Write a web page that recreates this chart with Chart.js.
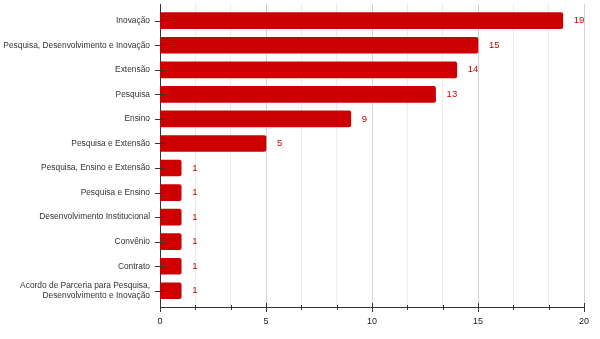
<!DOCTYPE html>
<html>
<head>
<meta charset="utf-8">
<script src="https://cdn.jsdelivr.net/npm/chart.js@4"></script>
<style>
    html, body { margin: 0; padding: 0; background: #fff; }
    #wrap { width: 600px; height: 339px; position: relative; }
</style>
</head>
<body>
<div id="wrap"><canvas id="chart"></canvas></div>
<script>
const categories = [
    "Inovação",
    "Pesquisa, Desenvolvimento e Inovação",
    "Extensão",
    "Pesquisa",
    "Ensino",
    "Pesquisa e Extensão",
    "Pesquisa, Ensino e Extensão",
    "Pesquisa e Ensino",
    "Desenvolvimento Institucional",
    "Convênio",
    "Contrato",
    ["Acordo de Parceria para Pesquisa,", "Desenvolvimento e Inovação"]
];
const counts = [19, 15, 14, 13, 9, 5, 1, 1, 1, 1, 1, 1];
const xTicks = [0, 5 / 3, 10 / 3, 5, 20 / 3, 25 / 3, 10, 35 / 3, 40 / 3, 15, 50 / 3, 55 / 3, 20];

const RED = "#cc0000";
const FONT = "'Liberation Sans', Arial, sans-serif";

function isMajor(v) {
    return Math.abs(v / 5 - Math.round(v / 5)) < 1e-6;
}

// value labels and the tick marks that cross the axis lines
const extras = {
    id: "extras",
    afterDatasetsDraw(chart) {
        const ctx = chart.ctx;
        const x = chart.scales.x;
        const y = chart.scales.y;
        ctx.save();
        ctx.font = "9.5px " + FONT;
        ctx.fillStyle = RED;
        ctx.textBaseline = "middle";
        ctx.textAlign = "left";
        counts.forEach(function (v, i) {
            ctx.fillText(String(v), x.getPixelForValue(v) + 11, y.getPixelForValue(i));
        });

        ctx.strokeStyle = "#333";
        ctx.lineWidth = 1;
        ctx.beginPath();
        categories.forEach(function (c, i) {
            const py = Math.round(y.getPixelForValue(i)) + 0.5;
            ctx.moveTo(x.left - 5, py);
            ctx.lineTo(x.left + 5, py);
        });
        xTicks.forEach(function (v) {
            const px = Math.round(x.getPixelForValue(v)) + 0.5;
            if (isMajor(v)) {
                ctx.moveTo(px, y.bottom - 4);
                ctx.lineTo(px, y.bottom + 5);
            } else {
                ctx.moveTo(px, y.bottom - 2);
                ctx.lineTo(px, y.bottom + 3);
            }
        });
        ctx.stroke();
        ctx.restore();
    }
};

new Chart(document.getElementById("chart"), {
    type: "bar",
    data: {
        labels: categories,
        datasets: [{
            data: counts,
            backgroundColor: RED,
            borderWidth: 0,
            borderRadius: 2,
            borderSkipped: "start",
            barThickness: 16
        }]
    },
    options: {
        indexAxis: "y",
        responsive: true,
        maintainAspectRatio: false,
        animation: false,
        layout: { padding: { top: 4, right: 16, left: 0, bottom: 0 } },
        plugins: {
            legend: { display: false },
            tooltip: { enabled: false }
        },
        scales: {
            x: {
                min: 0,
                max: 20,
                afterBuildTicks: function (scale) {
                    scale.ticks = xTicks.map(function (v) { return { value: v }; });
                },
                afterFit: function (scale) {
                    scale.height = 32;
                    scale.paddingLeft = 0;
                    scale.paddingRight = 0;
                },
                grid: {
                    drawTicks: false,
                    color: function (c) {
                        return c.tick && isMajor(c.tick.value) ? "#d4d4d4" : "#ebebeb";
                    }
                },
                border: { color: "#333" },
                ticks: {
                    autoSkip: false,
                    maxRotation: 0,
                    padding: 9,
                    color: "#222",
                    font: { family: FONT, size: 9 },
                    callback: function (v) {
                        return isMajor(v) ? Math.round(v) : "";
                    }
                }
            },
            y: {
                afterBuildTicks: function (scale) {
                    // a little extra room above and below the bars, as in the reference
                    scale._startValue = -0.68;
                    scale._valueRange = 12.34;
                },
                afterFit: function (scale) {
                    scale.width = 160;
                    scale.paddingTop = 0;
                    scale.paddingBottom = 0;
                },
                grid: { display: false, drawTicks: false },
                border: { color: "#333" },
                ticks: {
                    autoSkip: false,
                    padding: 10,
                    color: "#333",
                    font: { family: FONT, size: 8.4, lineHeight: 1.1 }
                }
            }
        }
    },
    plugins: [extras]
});
</script>
</body>
</html>
